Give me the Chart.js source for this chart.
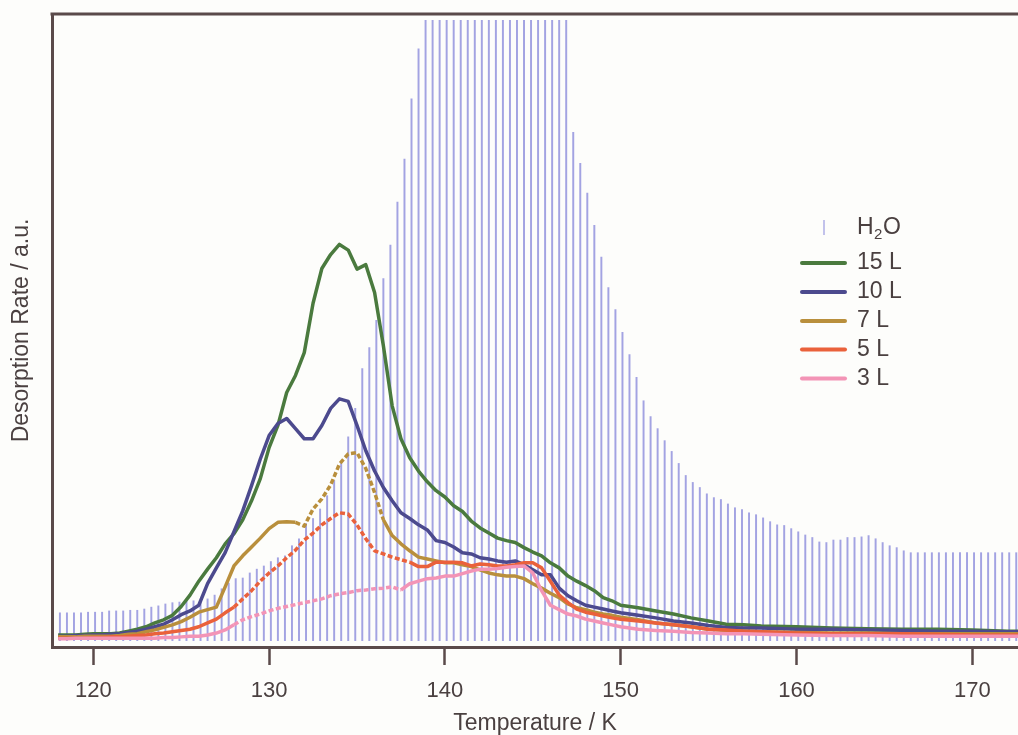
<!DOCTYPE html>
<html>
<head>
<meta charset="utf-8">
<script src="https://cdn.jsdelivr.net/npm/chart.js@4.4.1/dist/chart.umd.min.js"></script>
<style>
  html, body { margin: 0; padding: 0; background: #fdfdfb; overflow: hidden; }
  #wrap { position: relative; width: 1018px; height: 735px; }
</style>
</head>
<body>
<div id="wrap"><canvas id="c" width="1018" height="735"></canvas></div>
<script>
// ---------- DATA ----------
const xTicks = [120, 130, 140, 150, 160, 170];

const h2oTemp = [118.1,118.5,118.9,119.3,119.7,120.1,120.5,120.9,121.3,121.7,122.1,122.5,122.9,123.3,123.7,124.1,124.5,124.9,125.3,125.7,
126.1,126.5,126.9,127.3,127.7,128.1,128.5,128.9,129.3,129.7,130.1,130.5,130.9,131.3,131.7,132.1,132.5,132.9,133.3,133.7,
134.1,134.5,134.9,135.3,135.7,136.1,136.5,136.9,137.3,137.7,138.1,138.5,138.9,139.3,139.7,140.1,140.5,140.9,141.3,141.7,
142.1,142.5,142.9,143.3,143.7,144.1,144.5,144.9,145.3,145.7,146.1,146.5,146.9,147.3,147.7,148.1,148.5,148.9,149.3,149.7,
150.1,150.5,150.9,151.3,151.7,152.1,152.5,152.9,153.3,153.7,154.1,154.5,154.9,155.3,155.7,156.1,156.5,156.9,157.3,157.7,
158.1,158.5,158.9,159.3,159.7,160.1,160.5,160.9,161.3,161.7,162.1,162.5,162.9,163.3,163.7,164.1,164.5,164.9,165.3,165.7,
166.1,166.5,166.9,167.3,167.7,168.1,168.5,168.9,169.3,169.7,170.1,170.5,170.9,171.3,171.7,172.1,172.5];

const h2oRate = [5.4,5.4,5.4,5.4,5.5,5.5,5.5,5.7,5.7,5.7,5.8,5.8,6.0,6.3,6.5,6.8,7.0,7.1,7.3,7.3,
7.3,7.6,8.2,9.2,10.1,10.8,10.9,11.7,12.3,12.8,13.5,14.1,14.4,16.0,17.1,19.5,20.3,21.8,23.9,26.3,
29.1,33.2,37.7,44.0,47.3,51.6,58.2,63.5,70.3,77.1,86.6,94.5,99,99,99,99,99,99,99,99,
99,99,99,99,99,99,99,99,99,99,99,99,99,81.3,76.4,71.7,66.6,61.6,56.8,53.3,
49.7,46.2,42.6,38.9,36.4,34.5,32.6,30.9,29.0,27.1,26.0,25.2,24.2,23.6,23.3,22.6,22.0,21.7,21.2,20.9,
20.4,19.8,19.3,19.2,18.7,18.2,17.7,17.3,16.6,16.5,16.9,16.9,17.3,17.3,17.4,17.6,17.1,16.5,16.0,15.7,
15.2,14.9,14.9,14.9,14.9,14.9,14.9,14.9,14.9,14.9,14.9,14.9,14.9,14.9,14.9,14.9,14.9];

const lineTemp = [118,118.5,119,119.5,120,120.5,121,121.5,122,122.5,
123,123.5,124,124.5,125,125.5,126,126.5,127,127.5,
128,128.5,129,129.5,130,130.5,131,131.5,132,132.5,
133,133.5,134,134.5,135,135.5,136,136.5,137,137.5,
138,138.5,139,139.5,140,140.5,141,141.5,142,142.5,
143,143.5,144,144.5,145,145.5,146,146.5,147,147.5,
148,148.5,149,149.5,150,
151,152,153,154,155,156,157,158,160,162,164,166,168,170,172,172.6];

const rate15L = [1.9,1.9,1.9,2.0,2.1,2.1,2.1,2.2,2.5,2.8,
3.2,3.8,4.3,5.0,6.4,8.2,10.4,12.3,14.1,16.3,
17.9,20.1,23.1,26.6,31.5,35.0,40.2,42.9,46.5,54.3,
59.8,62.0,63.6,62.7,59.7,60.4,56.0,47.6,38.1,32.9,
29.9,27.8,26.1,24.7,23.7,22.3,21.4,19.9,18.8,18.0,
17.2,16.8,16.5,15.7,15.0,14.4,13.3,12.5,11.2,10.4,
9.7,8.9,7.8,7.3,6.6,
6.2,5.7,5.2,4.6,4.1,3.6,3.5,3.3,3.2,3.0,2.9,2.8,2.8,2.7,2.5,2.5];

const rate10L = [1.7,1.7,1.8,1.8,1.9,1.9,2.0,2.1,2.3,2.5,
2.8,3.2,3.6,4.3,5.1,5.7,6.6,10.0,12.5,14.9,
18.2,21.5,25.5,29.7,33.4,35.3,36.1,34.5,32.9,32.9,
35.0,37.7,39.2,38.8,35.0,31.0,27.8,25.2,23.1,21.2,
20.3,19.3,18.5,16.8,16.5,15.8,14.9,14.7,14.1,13.9,
13.6,13.4,13.6,13.0,12.2,11.4,11.4,9.3,8.1,7.3,
6.6,6.3,6.0,5.7,5.4,
5.0,4.6,4.1,3.8,3.4,3.1,3.0,3.0,2.8,2.8,2.7,2.6,2.5,2.5,2.4,2.4];

const rate7L = [1.6,1.6,1.6,1.7,1.7,1.7,1.7,1.8,2.0,2.1,
2.4,2.7,3.1,3.5,4.0,4.7,5.5,5.9,6.3,9.5,
12.8,14.4,15.8,17.2,18.7,19.7,19.8,19.7,19.1,21.8,
23.4,25.6,28.9,30.5,30.7,28.2,24.4,20.1,17.6,16.3,
15.2,14.2,13.9,13.6,13.3,13.3,13.0,12.7,12.2,11.7,
11.4,11.2,11.2,10.8,10.0,9.3,8.5,7.8,6.8,6.2,
5.9,5.5,5.2,5.0,4.7,
4.3,3.8,3.5,3.2,2.8,2.6,2.5,2.4,2.3,2.2,2.2,2.1,2.1,2.1,2.1,2.1];

const rate5L = [1.4,1.4,1.4,1.4,1.5,1.5,1.6,1.6,1.7,1.8,
1.9,2.1,2.2,2.4,2.6,2.8,3.2,3.8,4.4,5.4,
6.3,7.6,8.9,10.4,11.7,12.8,14.1,15.3,16.9,18.0,
19.3,20.3,21.2,21.0,19.3,17.1,15.2,14.7,14.2,13.8,
13.4,12.7,12.7,13.4,13.4,13.4,13.3,12.8,13.1,13.0,
12.8,12.8,13.0,13.3,13.3,12.5,10.4,8.2,7.0,6.0,
5.5,5.2,4.9,4.6,4.4,
4.1,3.8,3.5,3.2,2.8,2.7,2.5,2.4,2.2,2.1,2.1,2.1,2.0,1.9,1.9,1.9];

const rate3L = [1.3,1.3,1.4,1.4,1.4,1.4,1.4,1.4,1.4,1.4,
1.4,1.4,1.5,1.5,1.6,1.7,1.7,1.9,2.2,2.7,
3.5,4.3,4.8,5.2,5.7,6.1,6.4,6.7,7.0,7.3,
7.6,8.1,8.4,8.6,8.9,9.0,9.2,9.3,9.5,9.0,
10.0,10.4,10.8,10.9,11.2,11.2,11.6,12.0,12.3,12.3,
12.4,12.6,12.7,12.8,11.7,8.9,6.6,5.9,5.2,4.9,
4.4,4.1,3.8,3.5,3.2,
2.8,2.6,2.5,2.3,2.2,2.1,2.1,2.0,1.9,1.8,1.8,1.7,1.7,1.7,1.7,1.7];

// ---------- STYLE ----------
const FONT = "'Liberation Sans', Arial, Helvetica, sans-serif";
const TEXT = '#4a4040';
const FRAME = '#5a4a4a';
const BG = '#fdfdfb';

function pts(xs, ys) { return xs.map((x, i) => ({ x: x, y: ys[i] })); }
function dashIn(lo, hi) {
  return ctx => (ctx.p0.parsed.x >= lo && ctx.p1.parsed.x <= hi) ? [5, 2.5] : undefined;
}

const lineSets = [
  { label: '15 L', data: pts(lineTemp, rate15L), color: '#4a7a3e', order: 5 },
  { label: '10 L', data: pts(lineTemp, rate10L), color: '#4c4a8e', order: 4 },
  { label: '7 L',  data: pts(lineTemp, rate7L),  color: '#b98f3c', order: 3, dash: [131.5, 136.5] },
  { label: '5 L',  data: pts(lineTemp, rate5L),  color: '#ea613b', order: 2, dash: [128, 138] },
  { label: '3 L',  data: pts(lineTemp, rate3L),  color: '#f394b6', order: 1, dash: [128, 137.5] }
];

const datasets = [{
  type: 'bar',
  label: 'H2O',
  data: pts(h2oTemp, h2oRate),
  backgroundColor: '#a3a3e2',
  borderWidth: 0,
  barThickness: 1.3,
  base: 1.0,
  order: 10
}].concat(lineSets.map(s => ({
  type: 'line',
  label: s.label,
  data: s.data,
  borderColor: s.color,
  backgroundColor: s.color,
  borderWidth: 3.5,
  pointRadius: 0,
  tension: 0,
  borderJoinStyle: 'round',
  borderCapStyle: 'butt',
  fill: false,
  order: s.order,
  segment: s.dash ? { borderDash: dashIn(s.dash[0], s.dash[1]) } : undefined
})));

const decor = {
  id: 'decor',
  beforeDraw(chart) {
    const c = chart.ctx;
    c.save();
    c.fillStyle = BG;
    c.fillRect(0, 0, chart.width, chart.height);
    c.restore();
  },
  afterDatasetsDraw(chart) {
    const c = chart.ctx, a = chart.chartArea;
    c.save();
    // top frame line
    c.strokeStyle = FRAME;
    c.lineWidth = 3;
    c.beginPath();
    c.moveTo(a.left - 1.5, a.top);
    c.lineTo(a.right, a.top);
    c.stroke();

    // legend
    const x0 = 800, x1 = 847, tx = 857;
    c.font = '23px ' + FONT;
    c.textBaseline = 'middle';
    c.textAlign = 'left';
    c.fillStyle = TEXT;
    // H2O row
    const h = chart.data.datasets[0];
    const y0 = 228;
    c.strokeStyle = h.backgroundColor;
    c.lineWidth = 1.3;
    c.beginPath();
    c.moveTo(824, y0 - 8);
    c.lineTo(824, y0 + 7);
    c.stroke();
    c.fillText('H', tx, y0);
    let w = c.measureText('H').width;
    c.font = '15px ' + FONT;
    c.fillText('2', tx + w + 0.5, y0 + 7);
    const w2 = c.measureText('2').width;
    c.font = '23px ' + FONT;
    c.fillText('O', tx + w + w2 + 1, y0);
    // line rows
    const rows = [263, 292, 321, 349.5, 378.5];
    chart.data.datasets.slice(1).forEach((d, i) => {
      const y = rows[i];
      c.strokeStyle = d.borderColor;
      c.lineWidth = 4;
      c.lineCap = 'round';
      c.beginPath();
      c.moveTo(x0 + 2, y);
      c.lineTo(x1 - 2, y);
      c.stroke();
      c.fillStyle = TEXT;
      c.fillText(d.label, tx, y);
    });
    c.restore();
  }
};

new Chart(document.getElementById('c'), {
  type: 'line',
  data: { datasets: datasets },
  options: {
    responsive: false,
    animation: false,
    layout: { padding: { top: 14, left: 0, right: 0, bottom: 0 } },
    plugins: { legend: { display: false }, tooltip: { enabled: false } },
    scales: {
      x: {
        type: 'linear',
        min: 117.65,
        max: 172.6,
        offset: false,
        afterBuildTicks: s => { s.ticks = xTicks.map(v => ({ value: v })); },
        afterFit: s => { s.height = 88; },
        grid: { display: true, offset: false, drawOnChartArea: false, drawTicks: true, tickLength: 18, tickColor: FRAME, tickWidth: 2.5 },
        border: { display: true, color: FRAME, width: 3 },
        ticks: { color: TEXT, font: { family: FONT, size: 22 }, padding: 13, maxRotation: 0, autoSkip: false },
        title: { display: true, text: 'Temperature / K', color: TEXT, font: { family: FONT, size: 23, lineHeight: 1 }, padding: { top: 0, bottom: 0 } }
      },
      y: {
        min: 0,
        max: 100,
        afterFit: s => { s.width = 52; },
        grid: { display: false },
        border: { display: true, color: FRAME, width: 3 },
        ticks: { display: false },
        title: { display: true, text: 'Desorption Rate / a.u.', color: TEXT, font: { family: FONT, size: 23, lineHeight: 1 }, padding: { top: 10.5, bottom: 0 } }
      }
    }
  },
  plugins: [decor]
});
</script>
</body>
</html>
